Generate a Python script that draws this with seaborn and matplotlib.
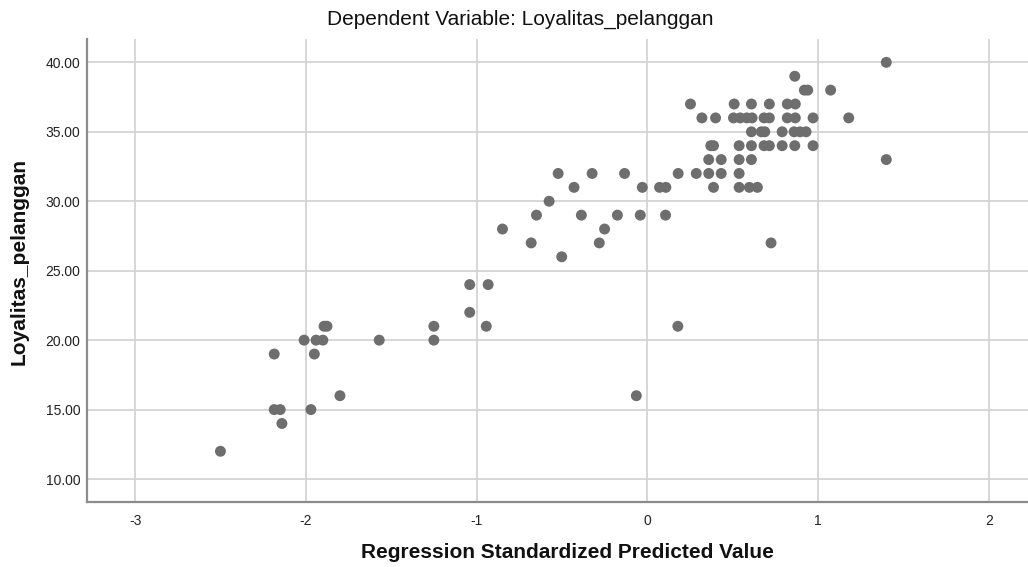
import matplotlib
matplotlib.use("Agg")
import matplotlib.pyplot as plt
import numpy as np
import pandas as pd
import seaborn as sns

# Regression standardized predicted value (x) vs observed Loyalitas_pelanggan (y)
pred_left = [-2.50, -2.185, -2.185, -2.15, -2.14, -2.01, -1.97, -1.95, -1.94, -1.90,
             -1.893, -1.876, -1.80, -1.57, -1.25, -1.25, -1.04, -1.04, -0.932, -0.943]
loyal_left = [12, 19, 15, 15, 14, 20, 15, 19, 20, 20,
              21, 21, 16, 20, 21, 20, 24, 22, 24, 21]

pred_mid = [-0.848, -0.68, -0.649, -0.575, -0.522, -0.501, -0.429, -0.386, -0.323, -0.281,
            -0.25, -0.175, -0.133, -0.064, -0.041, -0.029, 0.072, 0.109, 0.107, 0.179,
            0.181, 0.253, 0.287]
loyal_mid = [28, 27, 29, 30, 32, 26, 31, 29, 32, 27,
             28, 29, 32, 16, 29, 31, 31, 31, 29, 21,
             32, 37, 32]

pred_right = [0.32, 0.36, 0.36, 0.372, 0.388, 0.388, 0.40, 0.433, 0.433,
              0.509, 0.505, 0.544, 0.583, 0.614, 0.538, 0.538, 0.538, 0.538, 0.598, 0.645,
              0.61, 0.61, 0.61, 0.61, 0.668, 0.688, 0.684, 0.715, 0.684, 0.715, 0.715,
              0.725, 0.79, 0.79, 0.82, 0.867, 0.82, 0.867, 0.864,
              0.86, 0.895, 0.93, 0.864, 0.92, 0.94, 0.971, 0.971, 1.074, 1.18, 1.40, 1.40]
loyal_right = [36, 33, 32, 34, 34, 31, 36, 33, 32,
               37, 36, 36, 36, 36, 34, 33, 32, 31, 31, 31,
               37, 35, 34, 33, 35, 35, 36, 36, 34, 34, 37,
               27, 35, 34, 37, 37, 36, 36, 39,
               35, 35, 35, 34, 38, 38, 36, 34, 38, 36, 40, 33]

x_ticks = [-3, -2, -1, 0, 1, 2]
y_ticks = [10, 15, 20, 25, 30, 35, 40]

df = pd.DataFrame({
    "pred": pred_left + pred_mid + pred_right,
    "loyal": loyal_left + loyal_mid + loyal_right,
})

sns.set_style("white")
plt.rcParams["font.family"] = ["Liberation Sans", "DejaVu Sans"]

fig = plt.figure(figsize=(10.28, 5.67), dpi=100)
ax = fig.add_axes([0.0849, 0.1152, 0.9151, 0.816])

sns.scatterplot(data=df, x="pred", y="loyal", ax=ax, color="#6e6e6e",
                s=62, edgecolor="none", zorder=3)

ax.set_xlim(-3.28, 2.23)
ax.set_ylim(8.37, 41.68)
ax.set_xticks(x_ticks)
ax.set_xticklabels([str(t) for t in x_ticks])
ax.set_yticks(y_ticks)
ax.set_yticklabels([f"{t:.2f}" for t in y_ticks])
ax.tick_params(axis="x", length=0, labelsize=10, colors="#222222", pad=9)
ax.tick_params(axis="y", length=0, labelsize=10, colors="#222222", pad=5)

ax.grid(True, color="#d4d4d4", linewidth=1.3, zorder=0)
ax.set_axisbelow(True)
for side in ["top", "right"]:
    ax.spines[side].set_visible(False)
for side in ["left", "bottom"]:
    ax.spines[side].set_color("#8c8c8c")
    ax.spines[side].set_linewidth(1.6)

ax.set_xlabel("Regression Standardized Predicted Value", fontsize=15,
              fontweight="bold", labelpad=11, color="#111111")
ax.set_ylabel("Loyalitas_pelanggan", fontsize=15, fontweight="bold",
              labelpad=12, color="#111111")
ax.xaxis.label.set_x(0.51)
ax.yaxis.label.set_y(0.52)
fig.suptitle("Dependent Variable: Loyalitas_pelanggan", fontsize=15,
             x=0.506, y=0.982, color="#111111")

fig.savefig("out.png", dpi=100)
